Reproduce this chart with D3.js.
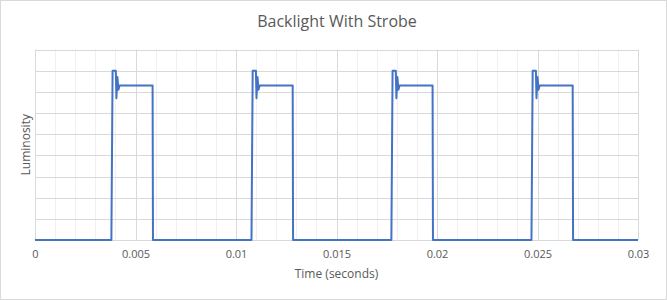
<!DOCTYPE html>
<html>
<head>
<meta charset="utf-8">
<script src="https://cdnjs.cloudflare.com/ajax/libs/d3/7.8.5/d3.min.js"></script>
<style>
  html, body { margin: 0; padding: 0; background: #fff; }
  svg { display: block; }
  text { font-family: "Open Sans", "Noto Sans", sans-serif; fill: #595959; }
</style>
</head>
<body>
<svg id="chart" width="667" height="300"></svg>
<script>
// ---- data ----
const title = "Backlight With Strobe";
const xLabel = "Time (seconds)";
const yLabel = "Luminosity";
const xTicks = [0, 0.005, 0.01, 0.015, 0.02, 0.025, 0.03];
const xTickLabels = ["0", "0.005", "0.01", "0.015", "0.02", "0.025", "0.03"];
const yGrid = [0, 1, 2, 3, 4, 5, 6, 7, 8, 9];

// time samples (seconds) and luminosity values
const times = [
  0,
  0.00380, 0.00386, 0.00402, 0.00405, 0.00410, 0.00415, 0.00421, 0.00585, 0.00587,
  0.01077, 0.01083, 0.01099, 0.01102, 0.01107, 0.01112, 0.01118, 0.01282, 0.01284,
  0.01773, 0.01779, 0.01795, 0.01798, 0.01803, 0.01808, 0.01814, 0.01978, 0.01980,
  0.02470, 0.02476, 0.02492, 0.02495, 0.02500, 0.02505, 0.02511, 0.02675, 0.02677,
  0.03
];
const luminosity = [
  0,
  0, 8.0, 8.0, 6.7, 7.7, 7.1, 7.3, 7.3, 0,
  0, 8.0, 8.0, 6.7, 7.7, 7.1, 7.3, 7.3, 0,
  0, 8.0, 8.0, 6.7, 7.7, 7.1, 7.3, 7.3, 0,
  0, 8.0, 8.0, 6.7, 7.7, 7.1, 7.3, 7.3, 0,
  0
];
const minorStep = 0.001;

// ---- chart ----
const W = 667, H = 300;
const m = { left: 35, right: 29, top: 49.5, bottom: 60 };
const svg = d3.select("#chart");

svg.append("rect").attr("x", 0.5).attr("y", 0.5).attr("width", W - 1).attr("height", H - 1)
  .attr("fill", "#fff").attr("stroke", "#d9d9d9");

const x = d3.scaleLinear().domain([0, 0.03]).range([m.left, W - m.right]);
const y = d3.scaleLinear().domain([0, 9]).range([H - m.bottom, m.top]);

// minor vertical gridlines
const minorTicks = d3.range(0, 0.03 + 1e-9, minorStep).filter(t => Math.abs(Math.round(t / 0.005) * 0.005 - t) > 1e-9);
svg.append("g").selectAll("line").data(minorTicks).join("line")
  .attr("x1", d => Math.round(x(d)) + 0.5).attr("x2", d => Math.round(x(d)) + 0.5)
  .attr("y1", y(9)).attr("y2", y(0))
  .attr("stroke", "#f0f0f0").attr("stroke-width", 1);

// major vertical gridlines
svg.append("g").selectAll("line").data(xTicks).join("line")
  .attr("x1", d => Math.round(x(d)) + 0.5).attr("x2", d => Math.round(x(d)) + 0.5)
  .attr("y1", y(9)).attr("y2", y(0))
  .attr("stroke", "#d9d9d9").attr("stroke-width", 1);

// horizontal gridlines
svg.append("g").selectAll("line").data(yGrid).join("line")
  .attr("x1", x(0)).attr("x2", x(0.03))
  .attr("y1", d => Math.round(y(d)) + 0.5).attr("y2", d => Math.round(y(d)) + 0.5)
  .attr("stroke", "#d9d9d9").attr("stroke-width", 1);

// x axis labels
const xAxis = d3.axisBottom(x).tickValues(xTicks).tickFormat((d, i) => xTickLabels[i]).tickSize(0).tickPadding(10);
const gx = svg.append("g").attr("transform", `translate(0,${y(0)})`).call(xAxis);
gx.select(".domain").remove();
gx.selectAll("text").attr("font-size", 11).attr("fill", "#595959")
  .style("font-family", '"Open Sans", "Noto Sans", sans-serif');

// line
const pts = times.map((t, i) => [t, luminosity[i]]);
svg.append("path").datum(pts)
  .attr("fill", "none").attr("stroke", "#4472c4").attr("stroke-width", 2)
  .attr("stroke-linejoin", "round")
  .attr("d", d3.line().x(d => x(d[0])).y(d => y(d[1])));

// title
svg.append("text").attr("x", 337).attr("y", 27).attr("text-anchor", "middle")
  .attr("font-size", 16).text(title);

// axis titles
svg.append("text").attr("x", x(0.015)).attr("y", 278).attr("text-anchor", "middle")
  .attr("font-size", 12).text(xLabel);
svg.append("text").attr("transform", `translate(30,${(y(0) + y(9)) / 2}) rotate(-90)`)
  .attr("text-anchor", "middle").attr("font-size", 12).text(yLabel);
</script>
</body>
</html>
